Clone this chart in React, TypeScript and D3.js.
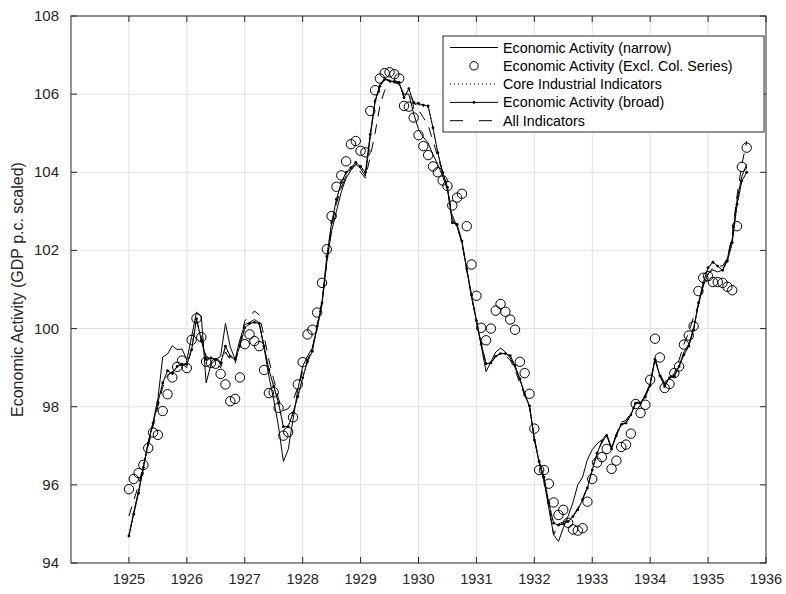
import React from "react";
import * as d3 from "d3";

const START_YEAR = 1925;
const xTicks = [1925, 1926, 1927, 1928, 1929, 1930, 1931, 1932, 1933, 1934, 1935, 1936];
const yTicks = [94, 96, 98, 100, 102, 104, 106, 108];

const narrow = [
  94.7, 95.3, 95.85, 96.45, 97.1, 97.6, 98.2, 99.27, 99.35, 99.56, 99.46, 99.48,
  99.2, 99.8, 100.42, 100.32, 98.61, 99.08, 99.21, 99.29, 100.13, 99.53, 99.21, 99.72,
  100.1, 100.16, 100.23, 100.15, 99.51, 98.78, 98.18, 97.49, 96.6, 96.9, 97.67, 98.44,
  99.03, 99.3, 99.5, 100.0, 100.6, 101.7, 102.5, 103.0, 103.5, 103.85, 104.05, 104.2,
  104.1, 103.9, 104.9, 105.8, 106.25, 106.4, 106.35, 106.3, 106.25, 106.0, 106.0, 105.5,
  105.1, 104.9, 104.75, 104.45, 104.2, 103.9, 103.55, 102.8, 102.6, 102.2, 101.5, 100.8,
  100.2, 99.55, 98.9, 99.15, 99.4, 99.5, 99.4, 99.25, 99.0, 98.7, 98.35, 98.0,
  97.2, 96.55, 96.1, 95.4, 94.72, 94.55, 94.9, 95.2, 95.55, 96.0, 96.2, 96.65,
  96.9, 97.05, 97.15, 97.3, 96.95, 97.3, 97.55, 97.6, 97.8, 98.1, 98.1, 98.3,
  98.6, 99.25, 98.8, 98.55, 98.75, 98.8, 99.05, 99.4, 99.6, 100.0, 100.6, 101.1,
  101.4, 101.5, 101.45, 101.5, 101.8, 102.3, 103.3, 103.9, 104.2,
];

const exclCol = [
  95.89, 96.15, 96.3, 96.51, 96.94, 97.34, 97.28, 97.89, 98.32, 98.75, 99.02, 99.18,
  98.99, 99.71, 100.26, 99.78, 99.15, 99.12, 99.1, 98.84, 98.57, 98.14, 98.2, 98.75,
  99.6, 99.85, 99.68, 99.55, 98.94, 98.35, 98.37, 97.97, 97.26, 97.35, 97.73, 98.57,
  99.14, 99.85, 99.97, 100.41, 101.17, 102.03, 102.88, 103.63, 103.92, 104.28, 104.72, 104.8,
  104.55, 104.51, 105.57, 106.1, 106.4, 106.54, 106.56, 106.51, 106.4, 105.7, 105.68, 105.4,
  104.95, 104.67, 104.44, 104.15, 104.0, 103.79, 103.65, 103.15, 103.35, 103.45, 102.62, 101.64,
  100.84, 100.02, 99.7, 100.0, 100.46, 100.63, 100.43, 100.23, 99.97, 99.15, 98.86, 98.33,
  97.44, 96.38, 96.38, 96.03, 95.55, 95.23, 95.36, 95.03, 94.86, 94.83, 94.89, 95.57,
  96.15, 96.57, 96.71, 96.92, 96.41, 96.62, 96.97, 97.03, 97.31, 98.07, 97.84, 98.05,
  98.69, 99.74, 99.26, 98.48, 98.58, 98.86, 99.03, 99.59, 99.82, 100.06, 100.96, 101.3,
  101.34, 101.19, 101.19, 101.17, 101.07, 100.98, 102.62, 104.14, 104.63,
];

const coreIndustrial = [
  94.75, 95.3, 95.8, 96.45, 97.05, 97.55, 98.1, 98.6, 98.9, 98.88, 99.05, 99.1,
  99.1, 99.5, 100.2, 99.72, 99.22, 99.24, 99.2, 99.13, 99.5, 99.3, 99.22, 99.55,
  100.0, 100.12, 100.15, 100.12, 99.56, 98.96, 98.54, 98.1, 97.52, 97.5, 97.85, 98.27,
  98.74, 99.16, 99.42, 100.05, 100.65, 101.8, 102.68, 103.28, 103.72, 103.98, 104.1, 104.22,
  104.13, 103.98, 104.95, 105.8, 106.2, 106.37, 106.33, 106.3, 106.28, 105.92, 106.1, 105.76,
  105.72, 105.68, 105.66, 105.12, 104.5, 104.0, 103.62, 102.72, 102.66, 102.24, 101.52, 100.84,
  100.22, 99.6, 99.1, 99.12, 99.3, 99.36, 99.35, 99.3, 99.05, 98.72, 98.32, 98.02,
  97.16, 96.6, 96.2, 95.54, 95.03, 94.98, 95.0, 95.07, 95.2, 95.37, 95.62, 95.92,
  96.38, 96.8, 97.1, 97.25, 96.92, 97.26, 97.54, 97.58, 97.78, 98.08, 98.1, 98.25,
  98.55, 99.2, 98.8, 98.53, 98.74, 98.78, 99.03, 99.33, 99.55, 99.97, 100.65, 101.15,
  101.55, 101.68, 101.6, 101.5, 101.72, 102.2, 103.15, 103.76, 104.0,
];

const broad = [
  94.69, 95.25, 95.79, 96.45, 97.07, 97.58, 98.11, 98.61, 98.92, 98.85, 99.03, 99.09,
  99.08, 99.46, 100.25, 99.7, 99.21, 99.25, 99.21, 99.12, 99.55, 99.29, 99.21, 99.55,
  100.02, 100.13, 100.16, 100.13, 99.55, 98.95, 98.52, 98.09, 97.49, 97.49, 97.84, 98.26,
  98.74, 99.16, 99.42, 100.06, 100.66, 101.85, 102.71, 103.31, 103.74, 104.0, 104.12, 104.25,
  104.15, 104.0, 104.97, 105.83, 106.2, 106.38, 106.34, 106.31, 106.3, 105.91, 106.14, 105.78,
  105.76, 105.72, 105.7, 105.14, 104.5, 104.0, 103.61, 102.71, 102.67, 102.24, 101.53, 100.85,
  100.2, 99.6, 99.1, 99.12, 99.29, 99.36, 99.36, 99.31, 99.05, 98.72, 98.3, 98.02,
  97.15, 96.6, 96.2, 95.53, 95.02, 94.97, 95.0, 95.06, 95.19, 95.36, 95.62, 95.92,
  96.38, 96.81, 97.11, 97.26, 96.92, 97.26, 97.54, 97.58, 97.79, 98.09, 98.09, 98.25,
  98.54, 99.21, 98.79, 98.52, 98.74, 98.78, 99.03, 99.33, 99.55, 99.97, 100.66, 101.17,
  101.56, 101.7, 101.6, 101.49, 101.73, 102.2, 103.18, 103.78, 104.0,
];

const allIndicators = [
  95.2, 95.6, 96.0, 96.5, 97.0, 97.5, 98.0, 98.5, 98.8, 98.9, 99.0, 99.1,
  99.0, 99.5, 100.2, 99.8, 99.3, 99.2, 99.1, 99.0, 99.4, 99.2, 99.1, 99.6,
  100.2, 100.3, 100.45, 100.35, 99.8, 99.2, 98.7, 98.2, 97.9, 97.95, 98.15, 98.5,
  98.9, 99.2, 99.5, 100.1, 100.7, 101.7, 102.6, 103.2, 103.6, 103.9, 104.1, 104.2,
  104.0, 103.85, 104.4, 105.0, 105.7, 106.1, 106.3, 106.35, 106.3, 105.9, 106.0, 105.8,
  105.6, 105.4, 105.2, 104.8, 104.4, 104.0, 103.6, 102.9, 102.6, 102.2, 101.5, 100.8,
  100.2, 99.6, 99.1, 99.1, 99.3, 99.35, 99.3, 99.2, 98.95, 98.6, 98.3, 98.0,
  97.2, 96.6, 96.1, 95.5, 94.72, 95.0, 95.05, 95.1, 95.2, 95.4, 95.65, 95.95,
  96.4, 96.8, 97.1, 97.25, 96.95, 97.3, 97.6, 97.65, 97.85, 98.1, 98.15, 98.3,
  98.6, 99.2, 98.85, 98.6, 98.75, 98.85, 99.2, 99.6, 99.9, 100.3, 100.6, 101.1,
  101.4, 101.55, 101.6, 101.6, 101.8, 102.4, 103.4, 104.2, 104.8,
];

const legendLabels = [
  "Economic Activity (narrow)",
  "Economic Activity (Excl. Col. Series)",
  "Core Industrial Indicators",
  "Economic Activity (broad)",
  "All Indicators",
];

const W = 786;
const H = 594;
const M = { left: 71, right: 766, top: 16, bottom: 563 };
const AX = "#262626";
const FONT = "'Liberation Sans', Arial, Helvetica, sans-serif";

export default function App() {
  const x = d3.scaleLinear().domain([1924, 1936]).range([M.left, M.right]);
  const y = d3.scaleLinear().domain([94, 108]).range([M.bottom, M.top]);
  const date = (i: number) => START_YEAR + i / 12;
  const line = d3
    .line<number>()
    .x((_, i) => x(date(i)))
    .y((d) => y(d));

  const tickLen = 6;
  const legX = 443, legY = 36, legW = 321, legH = 96;
  const rowY = (k: number) => legY + 11.5 + k * 18.3;
  const sx0 = 450, sx1 = 498, tx = 503;

  return (
    <svg
      width={W}
      height={H}
      style={{ position: "absolute", left: 0, top: 0, background: "#fff" }}
      fontFamily={FONT}
    >
      <rect x={0} y={0} width={W} height={H} fill="#fff" />
      {/* grid */}
      {xTicks.filter((t) => x(t) > M.left + 1 && x(t) < M.right - 1).map((t) => (
        <line key={"gx" + t} x1={x(t)} x2={x(t)} y1={M.top} y2={M.bottom} stroke="#e2e2e2" strokeWidth={1} />
      ))}
      {yTicks.filter((t) => y(t) > M.top + 1 && y(t) < M.bottom - 1).map((t) => (
        <line key={"gy" + t} x1={M.left} x2={M.right} y1={y(t)} y2={y(t)} stroke="#e2e2e2" strokeWidth={1} />
      ))}

      {/* series */}
      <path d={line(narrow) || ""} fill="none" stroke="#000" strokeWidth={1} />
      <path d={line(coreIndustrial) || ""} fill="none" stroke="#000" strokeWidth={1} strokeDasharray="1,3" />
      <path d={line(broad) || ""} fill="none" stroke="#000" strokeWidth={1} />
      {broad.map((d, i) => (
        <circle key={"bd" + i} cx={x(date(i))} cy={y(d)} r={1.4} fill="#000" />
      ))}
      <path d={line(allIndicators) || ""} fill="none" stroke="#000" strokeWidth={1} strokeDasharray="10,8" />
      {exclCol.map((d, i) => (
        <circle key={"ex" + i} cx={x(date(i))} cy={y(d)} r={4.7} fill="none" stroke="#000" strokeWidth={1} />
      ))}

      {/* axes box */}
      <rect x={M.left} y={M.top} width={M.right - M.left} height={M.bottom - M.top} fill="none" stroke={AX} strokeWidth={1} />
      {xTicks.map((t) => (
        <g key={"xt" + t}>
          <line x1={x(t)} x2={x(t)} y1={M.bottom} y2={M.bottom - tickLen} stroke={AX} />
          <line x1={x(t)} x2={x(t)} y1={M.top} y2={M.top + tickLen} stroke={AX} />
          <text x={x(t)} y={M.bottom + 21} textAnchor="middle" fontSize={14.5} fill={AX}>
            {t}
          </text>
        </g>
      ))}
      {yTicks.map((t) => (
        <g key={"yt" + t}>
          <line x1={M.left} x2={M.left + tickLen} y1={y(t)} y2={y(t)} stroke={AX} />
          <line x1={M.right} x2={M.right - tickLen} y1={y(t)} y2={y(t)} stroke={AX} />
          <text x={M.left - 12} y={y(t) + 5} textAnchor="end" fontSize={15} fill={AX}>
            {t}
          </text>
        </g>
      ))}
      <text
        transform={`translate(23, ${(M.top + M.bottom) / 2}) rotate(-90)`}
        textAnchor="middle"
        fontSize={16}
        fill={AX}
      >
        Economic Activity (GDP p.c. scaled)
      </text>

      {/* legend */}
      <rect x={legX} y={legY} width={legW} height={legH} fill="#fff" stroke={AX} strokeWidth={1} />
      <line x1={sx0} x2={sx1} y1={rowY(0)} y2={rowY(0)} stroke="#000" />
      <circle cx={(sx0 + sx1) / 2} cy={rowY(1)} r={4.2} fill="none" stroke="#000" />
      <line x1={sx0} x2={sx1} y1={rowY(2)} y2={rowY(2)} stroke="#000" strokeDasharray="1,3" />
      <line x1={sx0} x2={sx1} y1={rowY(3)} y2={rowY(3)} stroke="#000" />
      <circle cx={(sx0 + sx1) / 2} cy={rowY(3)} r={1.4} fill="#000" />
      <line x1={sx0} x2={sx1} y1={rowY(4)} y2={rowY(4)} stroke="#000" strokeDasharray="13,16" />
      {legendLabels.map((l, k) => (
        <text key={l} x={tx} y={rowY(k) + 5} fontSize={14.3} fill="#000">
          {l}
        </text>
      ))}
    </svg>
  );
}
